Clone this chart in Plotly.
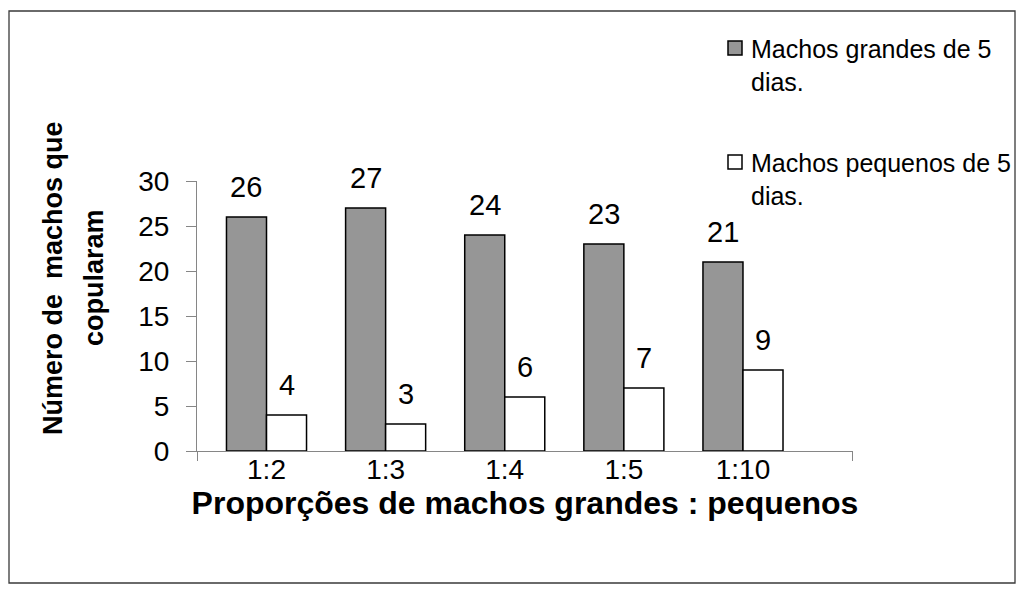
import plotly.graph_objects as go

categories = ["1:2", "1:3", "1:4", "1:5", "1:10"]
grandes = [26, 27, 24, 23, 21]
pequenos = [4, 3, 6, 7, 9]
serie_names = ["Machos grandes de 5 dias.", "Machos pequenos de 5 dias."]
legend_lines = [["Machos grandes de 5", "dias."], ["Machos pequenos de 5", "dias."]]
y_title_lines = ["Número de\u00a0 machos que", "copularam"]
x_title = "Proporções de machos grandes : pequenos"
y_ticks = [0, 5, 10, 15, 20, 25, 30]

FONT = "Arial, Liberation Sans, Helvetica, sans-serif"
OFF = 8  # page body margin
W, H = 1024 - OFF, 592 - OFF
# plot area in page pixels: x 197..853, y 181..451
L, R, T, B = 197 - OFF, W - (853 - OFF), 181 - OFF, H - (451 - OFF)
PW, PH = W - L - R, H - T - B


def px(x):
    return (x - OFF - L) / PW


def py(y):
    return (H - B - (y - OFF)) / PH


xs = list(range(len(categories)))
x_range = [-0.5835, len(categories) - 1 + 0.9236]
bar_half = 0.168

fig = go.Figure()
fig.add_trace(go.Bar(x=xs, y=grandes, name=serie_names[0],
                     marker=dict(color="#969696", line=dict(color="black", width=1.5)),
                     showlegend=False))
fig.add_trace(go.Bar(x=xs, y=pequenos, name=serie_names[1],
                     marker=dict(color="white", line=dict(color="black", width=1.5)),
                     showlegend=False))

annotations = []
for i, (g, p) in enumerate(zip(grandes, pequenos)):
    for xv, yv in ((i - bar_half, g), (i + bar_half, p)):
        annotations.append(dict(x=xv, y=yv, xref="x", yref="y", text=str(yv),
                                showarrow=False, yanchor="bottom", xanchor="center",
                                yshift=12, font=dict(family=FONT, size=29, color="black")))

# y-axis title (two lines)
for text, cx in zip(y_title_lines, [53, 94]):
    annotations.append(dict(x=px(cx), y=py(278), xref="paper", yref="paper", text="<b>%s</b>" % text,
                            textangle=-90, showarrow=False, xanchor="center", yanchor="middle",
                            font=dict(family=FONT, size=27, color="black")))

# legend
legend_colors = ["#969696", "white"]
legend_tops = [41, 155]
legend_mids = [65, 179.5]
for lines, mid in zip(legend_lines, legend_mids):
    annotations.append(dict(x=px(749), y=py(mid), xref="paper", yref="paper",
                            text="<br>".join(lines), align="left",
                            showarrow=False, xanchor="left", yanchor="middle",
                            font=dict(family=FONT, size=25, color="black")))

shapes = []
for col, top in zip(legend_colors, legend_tops):
    shapes.append(dict(type="rect", xref="paper", yref="paper",
                       x0=px(728), x1=px(742), y0=py(top + 14), y1=py(top),
                       fillcolor=col, line=dict(color="black", width=1.5)))
# outer border
shapes.append(dict(type="rect", xref="paper", yref="paper",
                   x0=px(9), x1=px(1015), y0=py(583), y1=py(11),
                   fillcolor="rgba(0,0,0,0)", line=dict(color="#3a3a3a", width=1.3)))

fig.update_layout(
    width=W, height=H,
    margin=dict(l=L, r=R, t=T, b=B, pad=0),
    paper_bgcolor="white", plot_bgcolor="white",
    barmode="group", bargap=0.328, bargroupgap=0,
    font=dict(family=FONT, color="black"),
    annotations=annotations, shapes=shapes,
    xaxis=dict(range=x_range, tickmode="array", tickvals=xs, ticktext=categories,
               ticks="", showgrid=False, zeroline=False,
               showline=True, linecolor="#868686", linewidth=1,
               tickfont=dict(family=FONT, size=28, color="black"),
               ticklabelstandoff=-7,
               minor=dict(tickmode="array", tickvals=[x_range[0] + 0.0005, x_range[1] - 0.0005],
                          ticks="outside", ticklen=9, tickcolor="#868686", tickwidth=1),
               title=dict(text="<b>%s</b>" % x_title, standoff=5,
                          font=dict(family=FONT, size=32, color="black"))),
    yaxis=dict(range=[0, 30], tickmode="array", tickvals=y_ticks,
               ticks="outside", ticklen=10, tickcolor="#868686", tickwidth=1,
               showline=True, linecolor="#868686", linewidth=1,
               showgrid=False, zeroline=False,
               ticklabelstandoff=11,
               tickfont=dict(family=FONT, size=28, color="black")),
)

fig.write_html("out.html")
